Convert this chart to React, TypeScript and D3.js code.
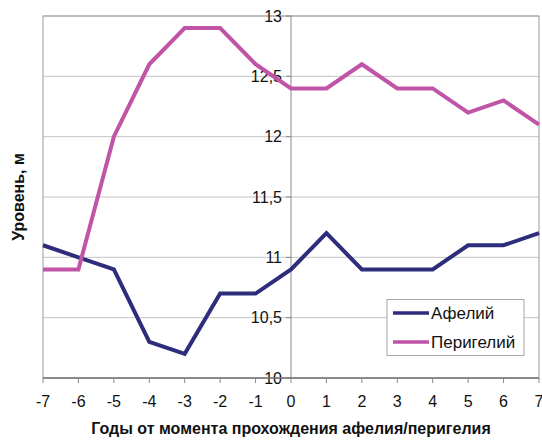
import * as d3 from 'd3';

const years = [-7, -6, -5, -4, -3, -2, -1, 0, 1, 2, 3, 4, 5, 6, 7];
const aphelion = [11.1, 11.0, 10.9, 10.3, 10.2, 10.7, 10.7, 10.9, 11.2, 10.9, 10.9, 10.9, 11.1, 11.1, 11.2];
const perihelion = [10.9, 10.9, 12.0, 12.6, 12.9, 12.9, 12.6, 12.4, 12.4, 12.6, 12.4, 12.4, 12.2, 12.3, 12.1];
const yTicks = [10, 10.5, 11, 11.5, 12, 12.5, 13];

const series = [
  { name: 'Афелий', values: aphelion, color: '#2d2d7c' },
  { name: 'Перигелий', values: perihelion, color: '#c054a6' },
];

const W = 542;
const H = 441;
const left = 43;
const right = 539;
const top = 16;
const bottom = 378;
const font = '"Liberation Sans", Arial, sans-serif';

export default function App() {
  const x = d3.scaleLinear().domain([-7, 7]).range([left, right]);
  const y = d3.scaleLinear().domain([10, 13]).range([bottom, top]);
  const fmt = (v: number) => String(v).replace('.', ',');

  const line = d3.line<number>()
    .x((_, i) => x(years[i]))
    .y(d => y(d));

  return (
    <svg width={W} height={H} style={{ position: 'absolute', left: 0, top: 0, background: '#fff' }}
      fontFamily={font}>
      {/* grid */}
      {yTicks.map(t => (
        <line key={'g' + t} x1={left} x2={right} y1={y(t)} y2={y(t)} stroke="#c4c4c4" strokeWidth={1} />
      ))}
      <rect x={left} y={top} width={right - left} height={bottom - top} fill="none" stroke="#9a9a9a" strokeWidth={1} />

      {/* y axis at x = 0 */}
      <line x1={x(0)} x2={x(0)} y1={top} y2={bottom} stroke="#8a8a8a" strokeWidth={1} />
      {yTicks.map(t => (
        <g key={'yt' + t}>
          <line x1={x(0) - 5} x2={x(0)} y1={y(t)} y2={y(t)} stroke="#8a8a8a" />
          <text x={x(0) - 9} y={y(t)} dy="0.36em" textAnchor="end" fontSize={16} fill="#111">{fmt(t)}</text>
        </g>
      ))}

      {/* x axis */}
      <line x1={left} x2={right} y1={bottom} y2={bottom} stroke="#7a7a7a" strokeWidth={1.5} />
      {years.map(v => (
        <g key={'xt' + v}>
          <line x1={x(v)} x2={x(v)} y1={bottom} y2={bottom + 5} stroke="#8a8a8a" />
          <text x={x(v)} y={407} textAnchor="middle" fontSize={16} fill="#111">{v}</text>
        </g>
      ))}

      {/* series */}
      {series.map(s => (
        <path key={s.name} d={line(s.values) || ''} fill="none" stroke={s.color} strokeWidth={4}
          strokeLinejoin="miter" />
      ))}

      {/* legend */}
      <rect x={387} y={299.5} width={137} height={56} fill="#fff" stroke="#a8a8a8" />
      {series.map((s, i) => (
        <g key={'l' + s.name}>
          <line x1={393} x2={429} y1={313 + i * 29} y2={313 + i * 29} stroke={s.color} strokeWidth={3.5} />
          <text x={431} y={319 + i * 29} fontSize={17} fill="#111">{s.name}</text>
        </g>
      ))}

      {/* titles */}
      <text x={(left + right) / 2} y={434} textAnchor="middle" fontSize={16} fontWeight="bold" fill="#111">
        Годы от момента прохождения афелия/перигелия
      </text>
      <text transform="translate(24,197) rotate(-90)" textAnchor="middle" fontSize={16} fontWeight="bold" fill="#111">
        Уровень, м
      </text>
    </svg>
  );
}
